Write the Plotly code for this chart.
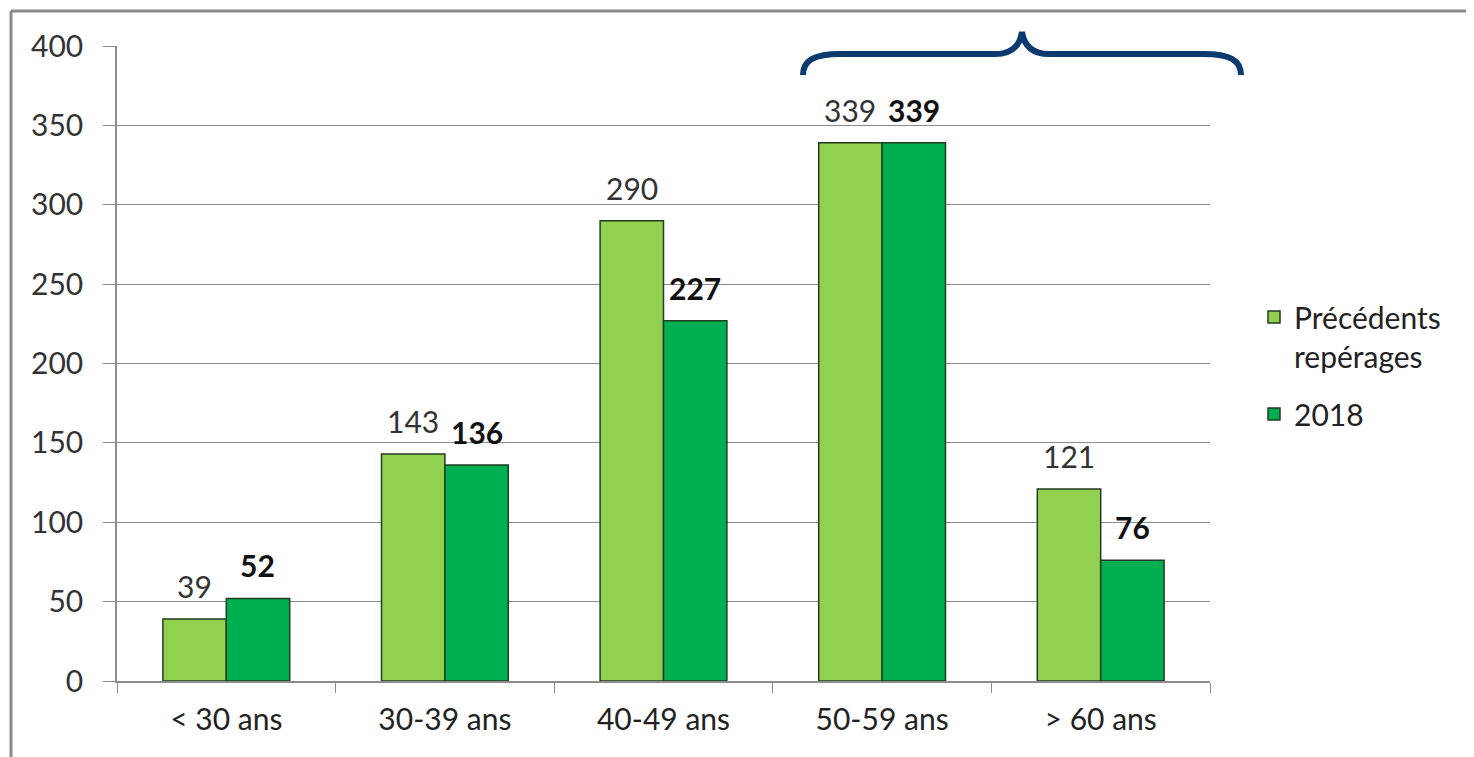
import plotly.graph_objects as go

categories = ["< 30 ans", "30-39 ans", "40-49 ans", "50-59 ans", "> 60 ans"]
precedents = [39, 143, 290, 339, 121]
values_2018 = [52, 136, 227, 339, 76]
series_names = ["Précédents<br>repérages", "2018"]

OFF = 8  # browser body margin
W, H = 1474 - OFF, 757 - OFF
# plot area in page pixels
L, R, T, B = 117, 1210, 46, 681
BARGAP = 0.42

def px(x):
    return (x - L) / (R - L)

def py(y):
    return (B - y) / (B - T)

font_family = "Lato, 'Open Sans', sans-serif"
outline = dict(color="#233a23", width=1.5)

fig = go.Figure()
fig.add_trace(go.Bar(
    x=categories, y=precedents, name=series_names[0], legendgroup="g1",
    marker=dict(color="#92D050", line=outline),
))
fig.add_trace(go.Bar(
    x=categories, y=values_2018, name=series_names[1], legendgroup="g2",
    marker=dict(color="#00B050", line=outline),
))

# value labels placed above each bar
band = (R - L) / len(categories)
half_bar = band * (1 - BARGAP) / 4
annotations = []
for cat, v in zip(categories, precedents):
    annotations.append(dict(x=cat, y=v, xref="x", yref="y", text=str(v),
                            showarrow=False, xshift=-half_bar, yshift=33,
                            yanchor="middle",
                            font=dict(size=30, color="#333333")))
for cat, v in zip(categories, values_2018):
    annotations.append(dict(x=cat, y=v, xref="x", yref="y", text=f"<b>{v}</b>",
                            showarrow=False, xshift=half_bar, yshift=33,
                            yanchor="middle",
                            font=dict(size=30, color="#111111")))

def P(x, y):
    return f"{px(x):.5f},{py(y):.5f}"

brace = (
    f"M {P(803,75)} C {P(803,60)} {P(815,54)} {P(840,54)} "
    f"L {P(995,54)} C {P(1012,54)} {P(1020,45)} {P(1022,32)} "
    f"C {P(1024,45)} {P(1032,54)} {P(1049,54)} "
    f"L {P(1204,54)} C {P(1229,54)} {P(1241,60)} {P(1241,75)}"
)

fig.update_layout(
    width=W, height=H,
    margin=dict(l=L - OFF, r=W + OFF - R, t=T - OFF, b=H + OFF - B, pad=0),
    paper_bgcolor="white", plot_bgcolor="white",
    font=dict(family=font_family, size=30, color="#333333"),
    barmode="group", bargap=BARGAP, bargroupgap=0,
    showlegend=True,
    legend=dict(x=px(1254), y=py(291), xanchor="left", yanchor="top",
                font=dict(size=30, color="#222222"), tracegroupgap=16,
                traceorder="grouped", itemwidth=30, valign="top"),
    annotations=annotations,
    xaxis=dict(type="category", showgrid=False, showline=True,
               linecolor="#8c8c8c", linewidth=1.5, ticks="outside",
               tickson="boundaries", ticklen=10, tickcolor="#8c8c8c",
               ticklabelstandoff=11,
               tickfont=dict(size=30, color="#222222")),
    yaxis=dict(range=[0, 400], dtick=50, showgrid=True, gridcolor="#8c8c8c",
               gridwidth=1, showline=True, linecolor="#8c8c8c", linewidth=1.5,
               ticks="outside", ticklen=12, tickcolor="#8c8c8c",
               ticklabelstandoff=14,
               zeroline=False, tickfont=dict(size=30, color="#333333")),
    shapes=[
        dict(type="line", xref="paper", yref="paper",
             x0=px(11), y0=py(11), x1=px(1500), y1=py(11),
             line=dict(color="#8a8a8a", width=3), layer="below"),
        dict(type="line", xref="paper", yref="paper",
             x0=px(11), y0=py(11), x1=px(11), y1=py(800),
             line=dict(color="#8a8a8a", width=3), layer="below"),
        dict(type="path", xref="paper", yref="paper", path=brace,
             line=dict(color="#0b3a6e", width=6)),
    ],
)

fig.write_html("out.html")
